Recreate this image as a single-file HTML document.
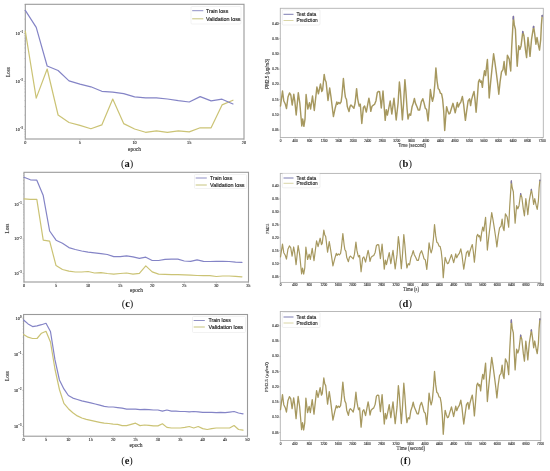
<!DOCTYPE html>
<html><head><meta charset="utf-8"><style>
html,body{margin:0;padding:0;background:#fff;}
svg{display:block;will-change:transform;}
</style></head><body>
<svg width="550" height="471" viewBox="0 0 550 471">
<rect x="0" y="0" width="550" height="471" fill="#fff"/>
<rect x="25.30" y="4.30" width="218.70" height="134.70" fill="none" stroke="#9a9a9a" stroke-width="1.1"/>
<line x1="25.30" y1="139.00" x2="25.30" y2="140.50" stroke="#999" stroke-width="0.5"/>
<text x="25.30" y="143.80" font-family='"Liberation Serif", serif' font-size="4.3" text-anchor="middle" font-weight="normal" fill="#333" stroke="#333" stroke-width="0.12" >0</text>
<line x1="79.95" y1="139.00" x2="79.95" y2="140.50" stroke="#999" stroke-width="0.5"/>
<text x="79.95" y="143.80" font-family='"Liberation Serif", serif' font-size="4.3" text-anchor="middle" font-weight="normal" fill="#333" stroke="#333" stroke-width="0.12" >5</text>
<line x1="134.60" y1="139.00" x2="134.60" y2="140.50" stroke="#999" stroke-width="0.5"/>
<text x="134.60" y="143.80" font-family='"Liberation Serif", serif' font-size="4.3" text-anchor="middle" font-weight="normal" fill="#333" stroke="#333" stroke-width="0.12" >10</text>
<line x1="189.25" y1="139.00" x2="189.25" y2="140.50" stroke="#999" stroke-width="0.5"/>
<text x="189.25" y="143.80" font-family='"Liberation Serif", serif' font-size="4.3" text-anchor="middle" font-weight="normal" fill="#333" stroke="#333" stroke-width="0.12" >15</text>
<line x1="243.90" y1="139.00" x2="243.90" y2="140.50" stroke="#999" stroke-width="0.5"/>
<text x="243.90" y="143.80" font-family='"Liberation Serif", serif' font-size="4.3" text-anchor="middle" font-weight="normal" fill="#333" stroke="#333" stroke-width="0.12" >20</text>
<line x1="24.30" y1="19.05" x2="25.30" y2="19.05" stroke="#999" stroke-width="0.4"/>
<line x1="24.30" y1="10.60" x2="25.30" y2="10.60" stroke="#999" stroke-width="0.4"/>
<line x1="24.30" y1="4.60" x2="25.30" y2="4.60" stroke="#999" stroke-width="0.4"/>
<line x1="24.30" y1="67.05" x2="25.30" y2="67.05" stroke="#999" stroke-width="0.4"/>
<line x1="24.30" y1="58.60" x2="25.30" y2="58.60" stroke="#999" stroke-width="0.4"/>
<line x1="24.30" y1="52.60" x2="25.30" y2="52.60" stroke="#999" stroke-width="0.4"/>
<line x1="24.30" y1="47.95" x2="25.30" y2="47.95" stroke="#999" stroke-width="0.4"/>
<line x1="24.30" y1="44.15" x2="25.30" y2="44.15" stroke="#999" stroke-width="0.4"/>
<line x1="24.30" y1="40.94" x2="25.30" y2="40.94" stroke="#999" stroke-width="0.4"/>
<line x1="24.30" y1="38.15" x2="25.30" y2="38.15" stroke="#999" stroke-width="0.4"/>
<line x1="24.30" y1="35.70" x2="25.30" y2="35.70" stroke="#999" stroke-width="0.4"/>
<line x1="24.30" y1="115.05" x2="25.30" y2="115.05" stroke="#999" stroke-width="0.4"/>
<line x1="24.30" y1="106.60" x2="25.30" y2="106.60" stroke="#999" stroke-width="0.4"/>
<line x1="24.30" y1="100.60" x2="25.30" y2="100.60" stroke="#999" stroke-width="0.4"/>
<line x1="24.30" y1="95.95" x2="25.30" y2="95.95" stroke="#999" stroke-width="0.4"/>
<line x1="24.30" y1="92.15" x2="25.30" y2="92.15" stroke="#999" stroke-width="0.4"/>
<line x1="24.30" y1="88.94" x2="25.30" y2="88.94" stroke="#999" stroke-width="0.4"/>
<line x1="24.30" y1="86.15" x2="25.30" y2="86.15" stroke="#999" stroke-width="0.4"/>
<line x1="24.30" y1="83.70" x2="25.30" y2="83.70" stroke="#999" stroke-width="0.4"/>
<line x1="24.30" y1="136.94" x2="25.30" y2="136.94" stroke="#999" stroke-width="0.4"/>
<line x1="24.30" y1="134.15" x2="25.30" y2="134.15" stroke="#999" stroke-width="0.4"/>
<line x1="24.30" y1="131.70" x2="25.30" y2="131.70" stroke="#999" stroke-width="0.4"/>
<line x1="23.80" y1="33.50" x2="25.30" y2="33.50" stroke="#999" stroke-width="0.5"/>
<text x="23.10" y="34.90" font-family='"Liberation Serif", serif' font-size="4.3" text-anchor="end" font-weight="normal" fill="#333" stroke="#333" stroke-width="0.12" >10<tspan font-size="3.0" dy="-1.6">−1</tspan></text>
<line x1="23.80" y1="81.60" x2="25.30" y2="81.60" stroke="#999" stroke-width="0.5"/>
<text x="23.10" y="83.00" font-family='"Liberation Serif", serif' font-size="4.3" text-anchor="end" font-weight="normal" fill="#333" stroke="#333" stroke-width="0.12" >10<tspan font-size="3.0" dy="-1.6">−2</tspan></text>
<line x1="23.80" y1="129.50" x2="25.30" y2="129.50" stroke="#999" stroke-width="0.5"/>
<text x="23.10" y="130.90" font-family='"Liberation Serif", serif' font-size="4.3" text-anchor="end" font-weight="normal" fill="#333" stroke="#333" stroke-width="0.12" >10<tspan font-size="3.0" dy="-1.6">−3</tspan></text>
<polyline points="25.30,31.20 36.23,98.10 47.16,69.00 58.09,115.00 69.02,122.50 79.95,125.40 90.88,128.70 101.81,124.90 112.74,99.00 123.67,123.60 134.60,129.00 145.53,132.30 156.46,130.90 167.39,132.30 178.32,130.90 189.25,131.90 200.18,127.80 211.11,127.80 222.04,104.90 232.97,100.20" fill="none" stroke="#cbc375" stroke-width="1.2" stroke-linejoin="round" stroke-linecap="round" />
<polyline points="25.30,10.40 36.23,27.30 47.16,66.00 58.09,70.50 69.02,80.90 79.95,84.10 90.88,86.80 101.81,91.30 112.74,92.20 123.67,93.60 134.60,96.90 145.53,97.80 156.46,97.80 167.39,99.00 178.32,100.70 189.25,102.00 200.18,96.60 211.11,100.90 222.04,99.20 232.97,104.00" fill="none" stroke="#8484c6" stroke-width="1.2" stroke-linejoin="round" stroke-linecap="round" />
<rect x="191" y="6.5" width="50" height="17.5" fill="#fff" fill-opacity="0.8" stroke="#e4e4e4" stroke-width="0.5" rx="1"/>
<line x1="192.20" y1="10.70" x2="203.30" y2="10.70" stroke="#7474b8" stroke-width="0.8"/>
<line x1="192.20" y1="18.80" x2="203.30" y2="18.80" stroke="#b9b55e" stroke-width="0.8"/>
<text x="206.00" y="12.60" font-family='"Liberation Sans", sans-serif' font-size="5.2" text-anchor="start" font-weight="normal" fill="#222" stroke="#222" stroke-width="0.15" textLength="22.3" lengthAdjust="spacingAndGlyphs" >Train loss</text>
<text x="206.00" y="20.70" font-family='"Liberation Sans", sans-serif' font-size="5.2" text-anchor="start" font-weight="normal" fill="#222" stroke="#222" stroke-width="0.15" textLength="34.6" lengthAdjust="spacingAndGlyphs" >Validation loss</text>
<text x="10.40" y="72.20" font-family='"Liberation Serif", serif' font-size="5.2" text-anchor="middle" font-weight="normal" fill="#333" stroke="#333" stroke-width="0.12" transform="rotate(-90 10.4 72.2)">Loss</text>
<text x="134.50" y="150.50" font-family='"Liberation Serif", serif' font-size="5.4" text-anchor="middle" font-weight="normal" fill="#333" stroke="#333" stroke-width="0.12" textLength="13" lengthAdjust="spacingAndGlyphs" >epoch</text>
<text x="127.00" y="166.80" font-family='"Liberation Serif", serif' font-size="10.5" text-anchor="middle" font-weight="normal" fill="#111" >(<tspan font-weight="bold">a</tspan>)</text>
<rect x="24.00" y="172.30" width="224.50" height="109.70" fill="none" stroke="#9a9a9a" stroke-width="1.1"/>
<line x1="24.00" y1="282.00" x2="24.00" y2="283.50" stroke="#999" stroke-width="0.5"/>
<text x="24.00" y="286.60" font-family='"Liberation Serif", serif' font-size="4.3" text-anchor="middle" font-weight="normal" fill="#333" stroke="#333" stroke-width="0.12" >0</text>
<line x1="56.05" y1="282.00" x2="56.05" y2="283.50" stroke="#999" stroke-width="0.5"/>
<text x="56.05" y="286.60" font-family='"Liberation Serif", serif' font-size="4.3" text-anchor="middle" font-weight="normal" fill="#333" stroke="#333" stroke-width="0.12" >5</text>
<line x1="88.10" y1="282.00" x2="88.10" y2="283.50" stroke="#999" stroke-width="0.5"/>
<text x="88.10" y="286.60" font-family='"Liberation Serif", serif' font-size="4.3" text-anchor="middle" font-weight="normal" fill="#333" stroke="#333" stroke-width="0.12" >10</text>
<line x1="120.15" y1="282.00" x2="120.15" y2="283.50" stroke="#999" stroke-width="0.5"/>
<text x="120.15" y="286.60" font-family='"Liberation Serif", serif' font-size="4.3" text-anchor="middle" font-weight="normal" fill="#333" stroke="#333" stroke-width="0.12" >15</text>
<line x1="152.20" y1="282.00" x2="152.20" y2="283.50" stroke="#999" stroke-width="0.5"/>
<text x="152.20" y="286.60" font-family='"Liberation Serif", serif' font-size="4.3" text-anchor="middle" font-weight="normal" fill="#333" stroke="#333" stroke-width="0.12" >20</text>
<line x1="184.25" y1="282.00" x2="184.25" y2="283.50" stroke="#999" stroke-width="0.5"/>
<text x="184.25" y="286.60" font-family='"Liberation Serif", serif' font-size="4.3" text-anchor="middle" font-weight="normal" fill="#333" stroke="#333" stroke-width="0.12" >25</text>
<line x1="216.30" y1="282.00" x2="216.30" y2="283.50" stroke="#999" stroke-width="0.5"/>
<text x="216.30" y="286.60" font-family='"Liberation Serif", serif' font-size="4.3" text-anchor="middle" font-weight="normal" fill="#333" stroke="#333" stroke-width="0.12" >30</text>
<line x1="248.35" y1="282.00" x2="248.35" y2="283.50" stroke="#999" stroke-width="0.5"/>
<text x="248.35" y="286.60" font-family='"Liberation Serif", serif' font-size="4.3" text-anchor="middle" font-weight="normal" fill="#333" stroke="#333" stroke-width="0.12" >35</text>
<line x1="23.00" y1="194.11" x2="24.00" y2="194.11" stroke="#999" stroke-width="0.4"/>
<line x1="23.00" y1="188.04" x2="24.00" y2="188.04" stroke="#999" stroke-width="0.4"/>
<line x1="23.00" y1="183.73" x2="24.00" y2="183.73" stroke="#999" stroke-width="0.4"/>
<line x1="23.00" y1="180.39" x2="24.00" y2="180.39" stroke="#999" stroke-width="0.4"/>
<line x1="23.00" y1="177.65" x2="24.00" y2="177.65" stroke="#999" stroke-width="0.4"/>
<line x1="23.00" y1="175.34" x2="24.00" y2="175.34" stroke="#999" stroke-width="0.4"/>
<line x1="23.00" y1="173.34" x2="24.00" y2="173.34" stroke="#999" stroke-width="0.4"/>
<line x1="23.00" y1="228.61" x2="24.00" y2="228.61" stroke="#999" stroke-width="0.4"/>
<line x1="23.00" y1="222.54" x2="24.00" y2="222.54" stroke="#999" stroke-width="0.4"/>
<line x1="23.00" y1="218.23" x2="24.00" y2="218.23" stroke="#999" stroke-width="0.4"/>
<line x1="23.00" y1="214.89" x2="24.00" y2="214.89" stroke="#999" stroke-width="0.4"/>
<line x1="23.00" y1="212.15" x2="24.00" y2="212.15" stroke="#999" stroke-width="0.4"/>
<line x1="23.00" y1="209.84" x2="24.00" y2="209.84" stroke="#999" stroke-width="0.4"/>
<line x1="23.00" y1="207.84" x2="24.00" y2="207.84" stroke="#999" stroke-width="0.4"/>
<line x1="23.00" y1="206.08" x2="24.00" y2="206.08" stroke="#999" stroke-width="0.4"/>
<line x1="23.00" y1="263.11" x2="24.00" y2="263.11" stroke="#999" stroke-width="0.4"/>
<line x1="23.00" y1="257.04" x2="24.00" y2="257.04" stroke="#999" stroke-width="0.4"/>
<line x1="23.00" y1="252.73" x2="24.00" y2="252.73" stroke="#999" stroke-width="0.4"/>
<line x1="23.00" y1="249.39" x2="24.00" y2="249.39" stroke="#999" stroke-width="0.4"/>
<line x1="23.00" y1="246.65" x2="24.00" y2="246.65" stroke="#999" stroke-width="0.4"/>
<line x1="23.00" y1="244.34" x2="24.00" y2="244.34" stroke="#999" stroke-width="0.4"/>
<line x1="23.00" y1="242.34" x2="24.00" y2="242.34" stroke="#999" stroke-width="0.4"/>
<line x1="23.00" y1="240.58" x2="24.00" y2="240.58" stroke="#999" stroke-width="0.4"/>
<line x1="23.00" y1="281.15" x2="24.00" y2="281.15" stroke="#999" stroke-width="0.4"/>
<line x1="23.00" y1="278.84" x2="24.00" y2="278.84" stroke="#999" stroke-width="0.4"/>
<line x1="23.00" y1="276.84" x2="24.00" y2="276.84" stroke="#999" stroke-width="0.4"/>
<line x1="23.00" y1="275.08" x2="24.00" y2="275.08" stroke="#999" stroke-width="0.4"/>
<line x1="22.50" y1="204.50" x2="24.00" y2="204.50" stroke="#999" stroke-width="0.5"/>
<text x="21.80" y="205.90" font-family='"Liberation Serif", serif' font-size="4.3" text-anchor="end" font-weight="normal" fill="#333" stroke="#333" stroke-width="0.12" >10<tspan font-size="3.0" dy="-1.6">−1</tspan></text>
<line x1="22.50" y1="239.00" x2="24.00" y2="239.00" stroke="#999" stroke-width="0.5"/>
<text x="21.80" y="240.40" font-family='"Liberation Serif", serif' font-size="4.3" text-anchor="end" font-weight="normal" fill="#333" stroke="#333" stroke-width="0.12" >10<tspan font-size="3.0" dy="-1.6">−2</tspan></text>
<line x1="22.50" y1="273.50" x2="24.00" y2="273.50" stroke="#999" stroke-width="0.5"/>
<text x="21.80" y="274.90" font-family='"Liberation Serif", serif' font-size="4.3" text-anchor="end" font-weight="normal" fill="#333" stroke="#333" stroke-width="0.12" >10<tspan font-size="3.0" dy="-1.6">−3</tspan></text>
<polyline points="24.00,198.80 30.41,199.30 36.82,199.30 43.23,240.20 49.64,241.20 56.05,265.60 62.46,269.50 68.87,271.20 75.28,272.00 81.69,272.00 88.10,271.50 94.51,273.00 100.92,272.60 107.33,273.50 113.74,274.10 120.15,273.50 126.56,273.00 132.97,274.10 139.38,273.30 145.79,265.90 152.20,271.90 158.61,274.10 165.02,274.40 171.43,274.60 177.84,274.60 184.25,274.90 190.66,275.20 197.07,275.50 203.48,275.70 209.89,275.70 216.30,276.50 222.71,276.00 229.12,276.00 235.53,276.30 241.94,276.80" fill="none" stroke="#cbc375" stroke-width="1.2" stroke-linejoin="round" stroke-linecap="round" />
<polyline points="24.00,177.30 30.41,179.80 36.82,180.20 43.23,195.60 49.64,231.00 56.05,240.20 62.46,243.20 68.87,247.60 75.28,249.50 81.69,251.00 88.10,252.20 94.51,252.90 100.92,253.70 107.33,254.50 113.74,256.60 120.15,256.60 126.56,255.80 132.97,256.90 139.38,258.30 145.79,257.20 152.20,260.50 158.61,260.50 165.02,259.40 171.43,259.10 177.84,259.10 184.25,261.00 190.66,261.30 197.07,259.90 203.48,261.30 209.89,261.50 216.30,261.30 222.71,261.30 229.12,261.50 235.53,262.10 241.94,262.40" fill="none" stroke="#8484c6" stroke-width="1.2" stroke-linejoin="round" stroke-linecap="round" />
<rect x="194.5" y="174.5" width="52.0" height="14.0" fill="#fff" fill-opacity="0.8" stroke="#e4e4e4" stroke-width="0.5" rx="1"/>
<line x1="195.70" y1="178.00" x2="206.80" y2="178.00" stroke="#7474b8" stroke-width="0.8"/>
<line x1="195.70" y1="185.00" x2="206.80" y2="185.00" stroke="#b9b55e" stroke-width="0.8"/>
<text x="210.00" y="179.90" font-family='"Liberation Sans", sans-serif' font-size="5.2" text-anchor="start" font-weight="normal" fill="#222" stroke="#222" stroke-width="0.15" textLength="22.3" lengthAdjust="spacingAndGlyphs" >Train loss</text>
<text x="210.00" y="186.90" font-family='"Liberation Sans", sans-serif' font-size="5.2" text-anchor="start" font-weight="normal" fill="#222" stroke="#222" stroke-width="0.15" textLength="34.6" lengthAdjust="spacingAndGlyphs" >Validation loss</text>
<text x="9.30" y="228.50" font-family='"Liberation Serif", serif' font-size="5.2" text-anchor="middle" font-weight="normal" fill="#333" stroke="#333" stroke-width="0.12" transform="rotate(-90 9.3 228.5)">Loss</text>
<text x="136.50" y="291.50" font-family='"Liberation Serif", serif' font-size="5.4" text-anchor="middle" font-weight="normal" fill="#333" stroke="#333" stroke-width="0.12" textLength="13" lengthAdjust="spacingAndGlyphs" >epoch</text>
<text x="127.50" y="306.50" font-family='"Liberation Serif", serif' font-size="10.5" text-anchor="middle" font-weight="normal" fill="#111" >(<tspan font-weight="bold">c</tspan>)</text>
<rect x="23.60" y="314.50" width="223.90" height="121.70" fill="none" stroke="#9a9a9a" stroke-width="1.1"/>
<line x1="23.60" y1="436.20" x2="23.60" y2="437.70" stroke="#999" stroke-width="0.5"/>
<text x="23.60" y="441.00" font-family='"Liberation Serif", serif' font-size="4.3" text-anchor="middle" font-weight="normal" fill="#333" stroke="#333" stroke-width="0.12" >0</text>
<line x1="45.99" y1="436.20" x2="45.99" y2="437.70" stroke="#999" stroke-width="0.5"/>
<text x="45.99" y="441.00" font-family='"Liberation Serif", serif' font-size="4.3" text-anchor="middle" font-weight="normal" fill="#333" stroke="#333" stroke-width="0.12" >5</text>
<line x1="68.38" y1="436.20" x2="68.38" y2="437.70" stroke="#999" stroke-width="0.5"/>
<text x="68.38" y="441.00" font-family='"Liberation Serif", serif' font-size="4.3" text-anchor="middle" font-weight="normal" fill="#333" stroke="#333" stroke-width="0.12" >10</text>
<line x1="90.77" y1="436.20" x2="90.77" y2="437.70" stroke="#999" stroke-width="0.5"/>
<text x="90.77" y="441.00" font-family='"Liberation Serif", serif' font-size="4.3" text-anchor="middle" font-weight="normal" fill="#333" stroke="#333" stroke-width="0.12" >15</text>
<line x1="113.16" y1="436.20" x2="113.16" y2="437.70" stroke="#999" stroke-width="0.5"/>
<text x="113.16" y="441.00" font-family='"Liberation Serif", serif' font-size="4.3" text-anchor="middle" font-weight="normal" fill="#333" stroke="#333" stroke-width="0.12" >20</text>
<line x1="135.55" y1="436.20" x2="135.55" y2="437.70" stroke="#999" stroke-width="0.5"/>
<text x="135.55" y="441.00" font-family='"Liberation Serif", serif' font-size="4.3" text-anchor="middle" font-weight="normal" fill="#333" stroke="#333" stroke-width="0.12" >25</text>
<line x1="157.94" y1="436.20" x2="157.94" y2="437.70" stroke="#999" stroke-width="0.5"/>
<text x="157.94" y="441.00" font-family='"Liberation Serif", serif' font-size="4.3" text-anchor="middle" font-weight="normal" fill="#333" stroke="#333" stroke-width="0.12" >30</text>
<line x1="180.33" y1="436.20" x2="180.33" y2="437.70" stroke="#999" stroke-width="0.5"/>
<text x="180.33" y="441.00" font-family='"Liberation Serif", serif' font-size="4.3" text-anchor="middle" font-weight="normal" fill="#333" stroke="#333" stroke-width="0.12" >35</text>
<line x1="202.72" y1="436.20" x2="202.72" y2="437.70" stroke="#999" stroke-width="0.5"/>
<text x="202.72" y="441.00" font-family='"Liberation Serif", serif' font-size="4.3" text-anchor="middle" font-weight="normal" fill="#333" stroke="#333" stroke-width="0.12" >40</text>
<line x1="225.11" y1="436.20" x2="225.11" y2="437.70" stroke="#999" stroke-width="0.5"/>
<text x="225.11" y="441.00" font-family='"Liberation Serif", serif' font-size="4.3" text-anchor="middle" font-weight="normal" fill="#333" stroke="#333" stroke-width="0.12" >45</text>
<line x1="247.50" y1="436.20" x2="247.50" y2="437.70" stroke="#999" stroke-width="0.5"/>
<text x="247.50" y="441.00" font-family='"Liberation Serif", serif' font-size="4.3" text-anchor="middle" font-weight="normal" fill="#333" stroke="#333" stroke-width="0.12" >50</text>
<line x1="22.60" y1="343.43" x2="23.60" y2="343.43" stroke="#999" stroke-width="0.4"/>
<line x1="22.60" y1="337.08" x2="23.60" y2="337.08" stroke="#999" stroke-width="0.4"/>
<line x1="22.60" y1="332.57" x2="23.60" y2="332.57" stroke="#999" stroke-width="0.4"/>
<line x1="22.60" y1="329.07" x2="23.60" y2="329.07" stroke="#999" stroke-width="0.4"/>
<line x1="22.60" y1="326.21" x2="23.60" y2="326.21" stroke="#999" stroke-width="0.4"/>
<line x1="22.60" y1="323.79" x2="23.60" y2="323.79" stroke="#999" stroke-width="0.4"/>
<line x1="22.60" y1="321.70" x2="23.60" y2="321.70" stroke="#999" stroke-width="0.4"/>
<line x1="22.60" y1="319.85" x2="23.60" y2="319.85" stroke="#999" stroke-width="0.4"/>
<line x1="22.60" y1="379.53" x2="23.60" y2="379.53" stroke="#999" stroke-width="0.4"/>
<line x1="22.60" y1="373.18" x2="23.60" y2="373.18" stroke="#999" stroke-width="0.4"/>
<line x1="22.60" y1="368.67" x2="23.60" y2="368.67" stroke="#999" stroke-width="0.4"/>
<line x1="22.60" y1="365.17" x2="23.60" y2="365.17" stroke="#999" stroke-width="0.4"/>
<line x1="22.60" y1="362.31" x2="23.60" y2="362.31" stroke="#999" stroke-width="0.4"/>
<line x1="22.60" y1="359.89" x2="23.60" y2="359.89" stroke="#999" stroke-width="0.4"/>
<line x1="22.60" y1="357.80" x2="23.60" y2="357.80" stroke="#999" stroke-width="0.4"/>
<line x1="22.60" y1="355.95" x2="23.60" y2="355.95" stroke="#999" stroke-width="0.4"/>
<line x1="22.60" y1="415.63" x2="23.60" y2="415.63" stroke="#999" stroke-width="0.4"/>
<line x1="22.60" y1="409.28" x2="23.60" y2="409.28" stroke="#999" stroke-width="0.4"/>
<line x1="22.60" y1="404.77" x2="23.60" y2="404.77" stroke="#999" stroke-width="0.4"/>
<line x1="22.60" y1="401.27" x2="23.60" y2="401.27" stroke="#999" stroke-width="0.4"/>
<line x1="22.60" y1="398.41" x2="23.60" y2="398.41" stroke="#999" stroke-width="0.4"/>
<line x1="22.60" y1="395.99" x2="23.60" y2="395.99" stroke="#999" stroke-width="0.4"/>
<line x1="22.60" y1="393.90" x2="23.60" y2="393.90" stroke="#999" stroke-width="0.4"/>
<line x1="22.60" y1="392.05" x2="23.60" y2="392.05" stroke="#999" stroke-width="0.4"/>
<line x1="22.60" y1="434.51" x2="23.60" y2="434.51" stroke="#999" stroke-width="0.4"/>
<line x1="22.60" y1="432.09" x2="23.60" y2="432.09" stroke="#999" stroke-width="0.4"/>
<line x1="22.60" y1="430.00" x2="23.60" y2="430.00" stroke="#999" stroke-width="0.4"/>
<line x1="22.60" y1="428.15" x2="23.60" y2="428.15" stroke="#999" stroke-width="0.4"/>
<line x1="22.10" y1="318.20" x2="23.60" y2="318.20" stroke="#999" stroke-width="0.5"/>
<text x="21.40" y="319.60" font-family='"Liberation Serif", serif' font-size="4.3" text-anchor="end" font-weight="normal" fill="#333" stroke="#333" stroke-width="0.12" >10<tspan font-size="3.0" dy="-1.6">0</tspan></text>
<line x1="22.10" y1="354.40" x2="23.60" y2="354.40" stroke="#999" stroke-width="0.5"/>
<text x="21.40" y="355.80" font-family='"Liberation Serif", serif' font-size="4.3" text-anchor="end" font-weight="normal" fill="#333" stroke="#333" stroke-width="0.12" >10<tspan font-size="3.0" dy="-1.6">−1</tspan></text>
<line x1="22.10" y1="390.30" x2="23.60" y2="390.30" stroke="#999" stroke-width="0.5"/>
<text x="21.40" y="391.70" font-family='"Liberation Serif", serif' font-size="4.3" text-anchor="end" font-weight="normal" fill="#333" stroke="#333" stroke-width="0.12" >10<tspan font-size="3.0" dy="-1.6">−2</tspan></text>
<line x1="22.10" y1="426.50" x2="23.60" y2="426.50" stroke="#999" stroke-width="0.5"/>
<text x="21.40" y="427.90" font-family='"Liberation Serif", serif' font-size="4.3" text-anchor="end" font-weight="normal" fill="#333" stroke="#333" stroke-width="0.12" >10<tspan font-size="3.0" dy="-1.6">−3</tspan></text>
<polyline points="23.60,334.50 28.08,337.20 32.56,338.50 37.03,338.50 41.51,333.20 45.99,331.30 50.47,342.00 54.95,369.00 59.42,389.50 63.90,403.40 68.38,408.70 72.86,412.70 77.34,415.90 81.81,418.00 86.29,419.30 90.77,420.40 95.25,421.40 99.73,422.30 104.20,423.20 108.68,423.50 113.16,424.10 117.64,424.40 122.12,425.60 126.59,425.60 131.07,424.40 135.55,423.20 140.03,425.60 144.51,425.00 148.98,425.30 153.46,425.90 157.94,425.90 162.42,423.80 166.90,427.40 171.37,428.00 175.85,428.00 180.33,428.00 184.81,427.40 189.29,426.50 193.76,428.00 198.24,426.50 202.72,428.60 207.20,429.50 211.68,428.60 216.15,428.00 220.63,428.00 225.11,428.00 229.59,428.00 234.07,425.50 238.54,429.50 243.02,430.10" fill="none" stroke="#cbc375" stroke-width="1.2" stroke-linejoin="round" stroke-linecap="round" />
<polyline points="23.60,320.00 28.08,323.90 32.56,326.60 37.03,325.80 41.51,324.70 45.99,323.30 50.47,331.50 54.95,359.70 59.42,380.00 63.90,388.90 68.38,395.50 72.86,398.10 77.34,399.50 81.81,400.80 86.29,401.80 90.77,402.80 95.25,404.00 99.73,405.20 104.20,406.40 108.68,407.00 113.16,407.00 117.64,407.60 122.12,408.20 126.59,409.10 131.07,409.10 135.55,409.10 140.03,409.70 144.51,409.40 148.98,409.70 153.46,410.00 157.94,410.00 162.42,411.20 166.90,410.00 171.37,411.20 175.85,411.20 180.33,411.50 184.81,411.50 189.29,411.80 193.76,411.50 198.24,411.80 202.72,412.40 207.20,412.40 211.68,412.40 216.15,412.70 220.63,412.40 225.11,412.70 229.59,412.10 234.07,411.50 238.54,413.00 243.02,413.90" fill="none" stroke="#8484c6" stroke-width="1.2" stroke-linejoin="round" stroke-linecap="round" />
<rect x="192.5" y="316.5" width="53.0" height="16.0" fill="#fff" fill-opacity="0.8" stroke="#e4e4e4" stroke-width="0.5" rx="1"/>
<line x1="193.70" y1="320.50" x2="204.80" y2="320.50" stroke="#7474b8" stroke-width="0.8"/>
<line x1="193.70" y1="327.00" x2="204.80" y2="327.00" stroke="#b9b55e" stroke-width="0.8"/>
<text x="208.50" y="322.40" font-family='"Liberation Sans", sans-serif' font-size="5.2" text-anchor="start" font-weight="normal" fill="#222" stroke="#222" stroke-width="0.15" textLength="22.3" lengthAdjust="spacingAndGlyphs" >Train loss</text>
<text x="208.50" y="328.90" font-family='"Liberation Sans", sans-serif' font-size="5.2" text-anchor="start" font-weight="normal" fill="#222" stroke="#222" stroke-width="0.15" textLength="34.6" lengthAdjust="spacingAndGlyphs" >Validation loss</text>
<text x="9.30" y="376.00" font-family='"Liberation Serif", serif' font-size="5.2" text-anchor="middle" font-weight="normal" fill="#333" stroke="#333" stroke-width="0.12" transform="rotate(-90 9.3 376)">Loss</text>
<text x="136.00" y="447.00" font-family='"Liberation Serif", serif' font-size="5.4" text-anchor="middle" font-weight="normal" fill="#333" stroke="#333" stroke-width="0.12" textLength="13" lengthAdjust="spacingAndGlyphs" >epoch</text>
<text x="127.00" y="464.30" font-family='"Liberation Serif", serif' font-size="10.5" text-anchor="middle" font-weight="normal" fill="#111" >(<tspan font-weight="bold">e</tspan>)</text>
<rect x="280.30" y="8.30" width="263.00" height="129.20" fill="none" stroke="#b2b2b2" stroke-width="0.9"/>
<line x1="279.10" y1="23.50" x2="280.30" y2="23.50" stroke="#888" stroke-width="0.4"/>
<text x="278.50" y="24.60" font-family='"Liberation Sans", sans-serif' font-size="3.2" text-anchor="end" font-weight="normal" fill="#333" stroke="#333" stroke-width="0.12" >0.40</text>
<line x1="279.10" y1="38.71" x2="280.30" y2="38.71" stroke="#888" stroke-width="0.4"/>
<text x="278.50" y="39.81" font-family='"Liberation Sans", sans-serif' font-size="3.2" text-anchor="end" font-weight="normal" fill="#333" stroke="#333" stroke-width="0.12" >0.35</text>
<line x1="279.10" y1="53.93" x2="280.30" y2="53.93" stroke="#888" stroke-width="0.4"/>
<text x="278.50" y="55.03" font-family='"Liberation Sans", sans-serif' font-size="3.2" text-anchor="end" font-weight="normal" fill="#333" stroke="#333" stroke-width="0.12" >0.30</text>
<line x1="279.10" y1="69.14" x2="280.30" y2="69.14" stroke="#888" stroke-width="0.4"/>
<text x="278.50" y="70.24" font-family='"Liberation Sans", sans-serif' font-size="3.2" text-anchor="end" font-weight="normal" fill="#333" stroke="#333" stroke-width="0.12" >0.25</text>
<line x1="279.10" y1="84.36" x2="280.30" y2="84.36" stroke="#888" stroke-width="0.4"/>
<text x="278.50" y="85.46" font-family='"Liberation Sans", sans-serif' font-size="3.2" text-anchor="end" font-weight="normal" fill="#333" stroke="#333" stroke-width="0.12" >0.20</text>
<line x1="279.10" y1="99.57" x2="280.30" y2="99.57" stroke="#888" stroke-width="0.4"/>
<text x="278.50" y="100.67" font-family='"Liberation Sans", sans-serif' font-size="3.2" text-anchor="end" font-weight="normal" fill="#333" stroke="#333" stroke-width="0.12" >0.15</text>
<line x1="279.10" y1="114.79" x2="280.30" y2="114.79" stroke="#888" stroke-width="0.4"/>
<text x="278.50" y="115.89" font-family='"Liberation Sans", sans-serif' font-size="3.2" text-anchor="end" font-weight="normal" fill="#333" stroke="#333" stroke-width="0.12" >0.10</text>
<line x1="279.10" y1="130.00" x2="280.30" y2="130.00" stroke="#888" stroke-width="0.4"/>
<text x="278.50" y="131.10" font-family='"Liberation Sans", sans-serif' font-size="3.2" text-anchor="end" font-weight="normal" fill="#333" stroke="#333" stroke-width="0.12" >0.05</text>
<line x1="280.50" y1="137.50" x2="280.50" y2="138.70" stroke="#888" stroke-width="0.4"/>
<text x="280.50" y="141.50" font-family='"Liberation Sans", sans-serif' font-size="3.1" text-anchor="middle" font-weight="normal" fill="#333" stroke="#333" stroke-width="0.12" >0</text>
<line x1="295.04" y1="137.50" x2="295.04" y2="138.70" stroke="#888" stroke-width="0.4"/>
<text x="295.04" y="141.50" font-family='"Liberation Sans", sans-serif' font-size="3.1" text-anchor="middle" font-weight="normal" fill="#333" stroke="#333" stroke-width="0.12" >400</text>
<line x1="309.58" y1="137.50" x2="309.58" y2="138.70" stroke="#888" stroke-width="0.4"/>
<text x="309.58" y="141.50" font-family='"Liberation Sans", sans-serif' font-size="3.1" text-anchor="middle" font-weight="normal" fill="#333" stroke="#333" stroke-width="0.12" >800</text>
<line x1="324.12" y1="137.50" x2="324.12" y2="138.70" stroke="#888" stroke-width="0.4"/>
<text x="324.12" y="141.50" font-family='"Liberation Sans", sans-serif' font-size="3.1" text-anchor="middle" font-weight="normal" fill="#333" stroke="#333" stroke-width="0.12" >1200</text>
<line x1="338.66" y1="137.50" x2="338.66" y2="138.70" stroke="#888" stroke-width="0.4"/>
<text x="338.66" y="141.50" font-family='"Liberation Sans", sans-serif' font-size="3.1" text-anchor="middle" font-weight="normal" fill="#333" stroke="#333" stroke-width="0.12" >1600</text>
<line x1="353.19" y1="137.50" x2="353.19" y2="138.70" stroke="#888" stroke-width="0.4"/>
<text x="353.19" y="141.50" font-family='"Liberation Sans", sans-serif' font-size="3.1" text-anchor="middle" font-weight="normal" fill="#333" stroke="#333" stroke-width="0.12" >2000</text>
<line x1="367.73" y1="137.50" x2="367.73" y2="138.70" stroke="#888" stroke-width="0.4"/>
<text x="367.73" y="141.50" font-family='"Liberation Sans", sans-serif' font-size="3.1" text-anchor="middle" font-weight="normal" fill="#333" stroke="#333" stroke-width="0.12" >2400</text>
<line x1="382.27" y1="137.50" x2="382.27" y2="138.70" stroke="#888" stroke-width="0.4"/>
<text x="382.27" y="141.50" font-family='"Liberation Sans", sans-serif' font-size="3.1" text-anchor="middle" font-weight="normal" fill="#333" stroke="#333" stroke-width="0.12" >2800</text>
<line x1="396.81" y1="137.50" x2="396.81" y2="138.70" stroke="#888" stroke-width="0.4"/>
<text x="396.81" y="141.50" font-family='"Liberation Sans", sans-serif' font-size="3.1" text-anchor="middle" font-weight="normal" fill="#333" stroke="#333" stroke-width="0.12" >3200</text>
<line x1="411.35" y1="137.50" x2="411.35" y2="138.70" stroke="#888" stroke-width="0.4"/>
<text x="411.35" y="141.50" font-family='"Liberation Sans", sans-serif' font-size="3.1" text-anchor="middle" font-weight="normal" fill="#333" stroke="#333" stroke-width="0.12" >3600</text>
<line x1="425.89" y1="137.50" x2="425.89" y2="138.70" stroke="#888" stroke-width="0.4"/>
<text x="425.89" y="141.50" font-family='"Liberation Sans", sans-serif' font-size="3.1" text-anchor="middle" font-weight="normal" fill="#333" stroke="#333" stroke-width="0.12" >4000</text>
<line x1="440.43" y1="137.50" x2="440.43" y2="138.70" stroke="#888" stroke-width="0.4"/>
<text x="440.43" y="141.50" font-family='"Liberation Sans", sans-serif' font-size="3.1" text-anchor="middle" font-weight="normal" fill="#333" stroke="#333" stroke-width="0.12" >4400</text>
<line x1="454.97" y1="137.50" x2="454.97" y2="138.70" stroke="#888" stroke-width="0.4"/>
<text x="454.97" y="141.50" font-family='"Liberation Sans", sans-serif' font-size="3.1" text-anchor="middle" font-weight="normal" fill="#333" stroke="#333" stroke-width="0.12" >4800</text>
<line x1="469.51" y1="137.50" x2="469.51" y2="138.70" stroke="#888" stroke-width="0.4"/>
<text x="469.51" y="141.50" font-family='"Liberation Sans", sans-serif' font-size="3.1" text-anchor="middle" font-weight="normal" fill="#333" stroke="#333" stroke-width="0.12" >5200</text>
<line x1="484.04" y1="137.50" x2="484.04" y2="138.70" stroke="#888" stroke-width="0.4"/>
<text x="484.04" y="141.50" font-family='"Liberation Sans", sans-serif' font-size="3.1" text-anchor="middle" font-weight="normal" fill="#333" stroke="#333" stroke-width="0.12" >5600</text>
<line x1="498.58" y1="137.50" x2="498.58" y2="138.70" stroke="#888" stroke-width="0.4"/>
<text x="498.58" y="141.50" font-family='"Liberation Sans", sans-serif' font-size="3.1" text-anchor="middle" font-weight="normal" fill="#333" stroke="#333" stroke-width="0.12" >6000</text>
<line x1="513.12" y1="137.50" x2="513.12" y2="138.70" stroke="#888" stroke-width="0.4"/>
<text x="513.12" y="141.50" font-family='"Liberation Sans", sans-serif' font-size="3.1" text-anchor="middle" font-weight="normal" fill="#333" stroke="#333" stroke-width="0.12" >6400</text>
<line x1="527.66" y1="137.50" x2="527.66" y2="138.70" stroke="#888" stroke-width="0.4"/>
<text x="527.66" y="141.50" font-family='"Liberation Sans", sans-serif' font-size="3.1" text-anchor="middle" font-weight="normal" fill="#333" stroke="#333" stroke-width="0.12" >6800</text>
<line x1="542.20" y1="137.50" x2="542.20" y2="138.70" stroke="#888" stroke-width="0.4"/>
<text x="542.20" y="141.50" font-family='"Liberation Sans", sans-serif' font-size="3.1" text-anchor="middle" font-weight="normal" fill="#333" stroke="#333" stroke-width="0.12" >7200</text>
<polyline points="280.50,106.02 282.50,91.02 283.80,101.02 285.30,104.02 286.50,108.52 288.00,97.02 289.50,93.02 290.80,95.02 292.20,105.02 293.80,94.32 294.80,101.02 296.20,115.03 298.30,92.82 299.80,103.02 301.00,117.03 301.80,126.03 302.70,119.03 303.90,126.33 305.00,119.03 306.10,94.52 307.80,109.02 309.40,102.82 310.60,108.92 312.50,96.02 314.30,110.52 316.90,87.02 318.40,93.82 320.50,84.02 321.80,91.52 322.60,90.02 324.20,74.41 325.10,79.82 326.10,82.02 328.00,100.42 329.70,88.02 331.00,97.02 333.40,116.53 335.30,107.72 336.80,101.92 337.60,104.22 338.80,102.42 339.90,103.62 341.10,101.92 341.90,96.02 343.40,78.52 344.70,92.02 345.40,97.22 346.50,99.52 347.30,106.52 349.00,111.62 350.00,106.52 351.00,105.02 352.40,106.52 353.90,108.32 355.10,103.02 356.60,88.62 357.60,98.32 358.50,103.02 359.20,106.02 360.30,104.22 361.80,123.53 363.40,107.42 364.60,106.02 366.30,112.02 368.90,98.22 369.60,101.92 370.80,111.32 371.90,106.52 373.10,105.32 374.60,104.22 376.00,100.72 377.30,92.52 378.30,91.52 379.60,91.82 381.30,108.02 383.00,91.02 385.20,120.33 386.30,109.62 387.40,115.13 390.20,100.92 391.80,114.03 394.00,98.22 396.20,120.03 398.10,103.02 399.40,82.02 400.40,91.32 401.60,108.92 402.40,119.83 403.60,103.02 404.90,79.62 405.90,91.32 407.10,109.02 408.00,119.03 409.40,113.93 410.70,115.23 412.00,107.02 413.30,103.12 414.40,98.52 415.40,103.12 417.10,107.02 418.30,110.12 419.60,110.12 421.30,101.92 422.80,98.72 424.10,103.12 425.30,108.22 426.60,109.52 428.10,120.83 429.20,107.02 430.40,89.52 431.70,98.02 432.50,101.22 433.70,96.22 434.80,84.32 435.90,67.91 437.10,81.32 438.20,88.72 439.20,89.52 440.40,93.22 441.60,93.92 442.60,99.12 443.70,111.02 444.70,130.53 445.60,118.43 446.60,106.62 447.80,111.02 449.00,114.03 450.00,113.23 451.10,109.52 453.00,103.32 454.10,108.02 455.20,112.83 456.40,107.02 457.30,102.52 458.30,107.02 459.50,104.02 460.90,101.82 462.40,96.52 463.60,104.02 464.70,114.43 465.40,120.33 466.60,111.42 468.10,101.02 469.60,98.82 470.60,105.52 471.60,99.62 472.80,95.12 474.00,91.42 475.00,99.62 476.10,112.22 477.30,98.12 478.50,81.72 479.50,79.52 480.50,82.32 481.40,81.02 482.40,87.32 483.30,78.62 484.50,70.81 485.60,75.61 486.70,65.21 487.40,59.51 488.30,77.12 489.20,97.92 490.40,84.62 491.90,69.71 493.60,53.81 494.90,62.31 496.30,72.71 497.80,84.62 498.80,94.22 500.10,81.62 501.50,71.91 503.00,69.71 504.10,61.51 505.10,71.91 506.00,75.01 507.40,55.31 509.20,59.11 510.70,71.01 511.70,47.21 513.40,16.50 514.30,24.90 515.40,29.30 516.20,47.21 517.20,66.31 518.70,45.71 519.90,49.41 521.10,45.71 522.80,31.60 524.00,36.00 525.50,50.11 526.60,57.61 528.00,37.50 529.10,47.21 530.00,56.31 531.50,39.70 533.60,26.40 534.70,33.80 535.90,44.21 537.00,37.50 538.50,45.71 539.50,50.11 540.70,39.70 541.40,24.90 542.20,15.50" fill="none" stroke="#a6985f" stroke-width="1.45" stroke-linejoin="round" stroke-linecap="round" />
<polyline points="513.26,18.95 513.40,16.50 513.47,17.17" fill="none" stroke="#7a72b4" stroke-width="1.45" stroke-linejoin="round" stroke-linecap="round" />
<polyline points="522.66,32.73 522.80,31.60 522.90,31.95" fill="none" stroke="#7a72b4" stroke-width="1.45" stroke-linejoin="round" stroke-linecap="round" />
<polyline points="533.43,27.47 533.60,26.40 533.69,26.99" fill="none" stroke="#7a72b4" stroke-width="1.45" stroke-linejoin="round" stroke-linecap="round" />
<polyline points="542.14,16.25 542.20,15.50 542.20,15.50" fill="none" stroke="#7a72b4" stroke-width="1.45" stroke-linejoin="round" stroke-linecap="round" />
<rect x="282.3" y="9.80" width="37.7" height="15.20" fill="#fff" fill-opacity="0.8" stroke="#e2e2e2" stroke-width="0.5" rx="1"/>
<line x1="283.50" y1="14.30" x2="293.50" y2="14.30" stroke="#5a5aa0" stroke-width="0.8"/>
<line x1="283.50" y1="20.50" x2="293.50" y2="20.50" stroke="#d0cc90" stroke-width="0.8"/>
<text x="296.50" y="16.00" font-family='"Liberation Sans", sans-serif' font-size="4.9" text-anchor="start" font-weight="normal" fill="#222" stroke="#222" stroke-width="0.12" textLength="19.8" lengthAdjust="spacingAndGlyphs" >Test data</text>
<text x="296.50" y="22.20" font-family='"Liberation Sans", sans-serif' font-size="4.9" text-anchor="start" font-weight="normal" fill="#222" stroke="#222" stroke-width="0.12" textLength="21.2" lengthAdjust="spacingAndGlyphs" >Prediction</text>
<text x="269.50" y="73.70" font-family='"Liberation Sans", sans-serif' font-size="4.6" text-anchor="middle" font-weight="normal" fill="#333" stroke="#333" stroke-width="0.12" textLength="30" lengthAdjust="spacingAndGlyphs" transform="rotate(-90 269.5 73.7)">PM2.5 (μg/m3)</text>
<text x="412.00" y="147.30" font-family='"Liberation Sans", sans-serif' font-size="4.9" text-anchor="middle" font-weight="normal" fill="#333" stroke="#333" stroke-width="0.1" textLength="28" lengthAdjust="spacingAndGlyphs" >Time (second)</text>
<text x="405.50" y="166.80" font-family='"Liberation Serif", serif' font-size="10.5" text-anchor="middle" font-weight="normal" fill="#111" >(<tspan font-weight="bold">b</tspan>)</text>
<rect x="280.30" y="173.40" width="260.50" height="109.00" fill="none" stroke="#b2b2b2" stroke-width="0.9"/>
<line x1="279.10" y1="186.00" x2="280.30" y2="186.00" stroke="#888" stroke-width="0.4"/>
<text x="278.50" y="187.10" font-family='"Liberation Sans", sans-serif' font-size="3.2" text-anchor="end" font-weight="normal" fill="#333" stroke="#333" stroke-width="0.12" >0.40</text>
<line x1="279.10" y1="198.93" x2="280.30" y2="198.93" stroke="#888" stroke-width="0.4"/>
<text x="278.50" y="200.03" font-family='"Liberation Sans", sans-serif' font-size="3.2" text-anchor="end" font-weight="normal" fill="#333" stroke="#333" stroke-width="0.12" >0.35</text>
<line x1="279.10" y1="211.86" x2="280.30" y2="211.86" stroke="#888" stroke-width="0.4"/>
<text x="278.50" y="212.96" font-family='"Liberation Sans", sans-serif' font-size="3.2" text-anchor="end" font-weight="normal" fill="#333" stroke="#333" stroke-width="0.12" >0.30</text>
<line x1="279.10" y1="224.79" x2="280.30" y2="224.79" stroke="#888" stroke-width="0.4"/>
<text x="278.50" y="225.89" font-family='"Liberation Sans", sans-serif' font-size="3.2" text-anchor="end" font-weight="normal" fill="#333" stroke="#333" stroke-width="0.12" >0.25</text>
<line x1="279.10" y1="237.71" x2="280.30" y2="237.71" stroke="#888" stroke-width="0.4"/>
<text x="278.50" y="238.81" font-family='"Liberation Sans", sans-serif' font-size="3.2" text-anchor="end" font-weight="normal" fill="#333" stroke="#333" stroke-width="0.12" >0.20</text>
<line x1="279.10" y1="250.64" x2="280.30" y2="250.64" stroke="#888" stroke-width="0.4"/>
<text x="278.50" y="251.74" font-family='"Liberation Sans", sans-serif' font-size="3.2" text-anchor="end" font-weight="normal" fill="#333" stroke="#333" stroke-width="0.12" >0.15</text>
<line x1="279.10" y1="263.57" x2="280.30" y2="263.57" stroke="#888" stroke-width="0.4"/>
<text x="278.50" y="264.67" font-family='"Liberation Sans", sans-serif' font-size="3.2" text-anchor="end" font-weight="normal" fill="#333" stroke="#333" stroke-width="0.12" >0.10</text>
<line x1="279.10" y1="276.50" x2="280.30" y2="276.50" stroke="#888" stroke-width="0.4"/>
<text x="278.50" y="277.60" font-family='"Liberation Sans", sans-serif' font-size="3.2" text-anchor="end" font-weight="normal" fill="#333" stroke="#333" stroke-width="0.12" >0.05</text>
<line x1="280.50" y1="282.40" x2="280.50" y2="283.60" stroke="#888" stroke-width="0.4"/>
<text x="280.50" y="286.20" font-family='"Liberation Sans", sans-serif' font-size="3.1" text-anchor="middle" font-weight="normal" fill="#333" stroke="#333" stroke-width="0.12" >0</text>
<line x1="294.94" y1="282.40" x2="294.94" y2="283.60" stroke="#888" stroke-width="0.4"/>
<text x="294.94" y="286.20" font-family='"Liberation Sans", sans-serif' font-size="3.1" text-anchor="middle" font-weight="normal" fill="#333" stroke="#333" stroke-width="0.12" >400</text>
<line x1="309.39" y1="282.40" x2="309.39" y2="283.60" stroke="#888" stroke-width="0.4"/>
<text x="309.39" y="286.20" font-family='"Liberation Sans", sans-serif' font-size="3.1" text-anchor="middle" font-weight="normal" fill="#333" stroke="#333" stroke-width="0.12" >800</text>
<line x1="323.83" y1="282.40" x2="323.83" y2="283.60" stroke="#888" stroke-width="0.4"/>
<text x="323.83" y="286.20" font-family='"Liberation Sans", sans-serif' font-size="3.1" text-anchor="middle" font-weight="normal" fill="#333" stroke="#333" stroke-width="0.12" >1200</text>
<line x1="338.28" y1="282.40" x2="338.28" y2="283.60" stroke="#888" stroke-width="0.4"/>
<text x="338.28" y="286.20" font-family='"Liberation Sans", sans-serif' font-size="3.1" text-anchor="middle" font-weight="normal" fill="#333" stroke="#333" stroke-width="0.12" >1600</text>
<line x1="352.72" y1="282.40" x2="352.72" y2="283.60" stroke="#888" stroke-width="0.4"/>
<text x="352.72" y="286.20" font-family='"Liberation Sans", sans-serif' font-size="3.1" text-anchor="middle" font-weight="normal" fill="#333" stroke="#333" stroke-width="0.12" >2000</text>
<line x1="367.17" y1="282.40" x2="367.17" y2="283.60" stroke="#888" stroke-width="0.4"/>
<text x="367.17" y="286.20" font-family='"Liberation Sans", sans-serif' font-size="3.1" text-anchor="middle" font-weight="normal" fill="#333" stroke="#333" stroke-width="0.12" >2400</text>
<line x1="381.61" y1="282.40" x2="381.61" y2="283.60" stroke="#888" stroke-width="0.4"/>
<text x="381.61" y="286.20" font-family='"Liberation Sans", sans-serif' font-size="3.1" text-anchor="middle" font-weight="normal" fill="#333" stroke="#333" stroke-width="0.12" >2800</text>
<line x1="396.06" y1="282.40" x2="396.06" y2="283.60" stroke="#888" stroke-width="0.4"/>
<text x="396.06" y="286.20" font-family='"Liberation Sans", sans-serif' font-size="3.1" text-anchor="middle" font-weight="normal" fill="#333" stroke="#333" stroke-width="0.12" >3200</text>
<line x1="410.50" y1="282.40" x2="410.50" y2="283.60" stroke="#888" stroke-width="0.4"/>
<text x="410.50" y="286.20" font-family='"Liberation Sans", sans-serif' font-size="3.1" text-anchor="middle" font-weight="normal" fill="#333" stroke="#333" stroke-width="0.12" >3600</text>
<line x1="424.94" y1="282.40" x2="424.94" y2="283.60" stroke="#888" stroke-width="0.4"/>
<text x="424.94" y="286.20" font-family='"Liberation Sans", sans-serif' font-size="3.1" text-anchor="middle" font-weight="normal" fill="#333" stroke="#333" stroke-width="0.12" >4000</text>
<line x1="439.39" y1="282.40" x2="439.39" y2="283.60" stroke="#888" stroke-width="0.4"/>
<text x="439.39" y="286.20" font-family='"Liberation Sans", sans-serif' font-size="3.1" text-anchor="middle" font-weight="normal" fill="#333" stroke="#333" stroke-width="0.12" >4400</text>
<line x1="453.83" y1="282.40" x2="453.83" y2="283.60" stroke="#888" stroke-width="0.4"/>
<text x="453.83" y="286.20" font-family='"Liberation Sans", sans-serif' font-size="3.1" text-anchor="middle" font-weight="normal" fill="#333" stroke="#333" stroke-width="0.12" >4800</text>
<line x1="468.28" y1="282.40" x2="468.28" y2="283.60" stroke="#888" stroke-width="0.4"/>
<text x="468.28" y="286.20" font-family='"Liberation Sans", sans-serif' font-size="3.1" text-anchor="middle" font-weight="normal" fill="#333" stroke="#333" stroke-width="0.12" >5200</text>
<line x1="482.72" y1="282.40" x2="482.72" y2="283.60" stroke="#888" stroke-width="0.4"/>
<text x="482.72" y="286.20" font-family='"Liberation Sans", sans-serif' font-size="3.1" text-anchor="middle" font-weight="normal" fill="#333" stroke="#333" stroke-width="0.12" >5600</text>
<line x1="497.17" y1="282.40" x2="497.17" y2="283.60" stroke="#888" stroke-width="0.4"/>
<text x="497.17" y="286.20" font-family='"Liberation Sans", sans-serif' font-size="3.1" text-anchor="middle" font-weight="normal" fill="#333" stroke="#333" stroke-width="0.12" >6000</text>
<line x1="511.61" y1="282.40" x2="511.61" y2="283.60" stroke="#888" stroke-width="0.4"/>
<text x="511.61" y="286.20" font-family='"Liberation Sans", sans-serif' font-size="3.1" text-anchor="middle" font-weight="normal" fill="#333" stroke="#333" stroke-width="0.12" >6400</text>
<line x1="526.06" y1="282.40" x2="526.06" y2="283.60" stroke="#888" stroke-width="0.4"/>
<text x="526.06" y="286.20" font-family='"Liberation Sans", sans-serif' font-size="3.1" text-anchor="middle" font-weight="normal" fill="#333" stroke="#333" stroke-width="0.12" >6800</text>
<line x1="540.50" y1="282.40" x2="540.50" y2="283.60" stroke="#888" stroke-width="0.4"/>
<text x="540.50" y="286.20" font-family='"Liberation Sans", sans-serif' font-size="3.1" text-anchor="middle" font-weight="normal" fill="#333" stroke="#333" stroke-width="0.12" >7200</text>
<polyline points="280.50,256.93 282.48,244.18 283.77,252.68 285.26,255.23 286.45,259.05 287.93,249.28 289.42,245.88 290.71,247.58 292.10,256.08 293.68,246.98 294.67,252.68 296.06,264.58 298.14,245.71 299.63,254.38 300.82,266.28 301.61,273.93 302.50,267.98 303.69,274.18 304.78,267.98 305.88,247.15 307.56,259.48 309.15,254.21 310.34,259.39 312.22,248.43 314.00,260.75 316.58,240.78 318.07,246.56 320.15,238.23 321.44,244.60 322.23,243.33 323.82,230.07 324.71,234.66 325.70,236.53 327.58,252.17 329.27,241.63 330.56,249.28 332.94,265.85 334.82,258.37 336.31,253.44 337.10,255.40 338.29,253.87 339.38,254.89 340.57,253.44 341.36,248.43 342.85,233.55 344.14,245.03 344.83,249.45 345.92,251.40 346.71,257.35 348.40,261.69 349.39,257.35 350.38,256.08 351.77,257.35 353.25,258.88 354.44,254.38 355.93,242.14 356.92,250.38 357.81,254.38 358.51,256.93 359.60,255.40 361.09,271.80 362.67,258.12 363.86,256.93 365.55,262.03 368.12,250.30 368.82,253.44 370.01,261.43 371.10,257.35 372.29,256.33 373.77,255.40 375.16,252.42 376.45,245.45 377.44,244.60 378.73,244.86 380.41,258.63 382.10,244.18 384.28,269.08 385.37,259.99 386.46,264.66 389.24,252.59 390.82,263.73 393.00,250.30 395.18,268.83 397.07,254.38 398.36,236.53 399.35,244.43 400.54,259.39 401.33,268.66 402.52,254.38 403.81,234.49 404.80,244.43 405.99,259.48 406.88,267.98 408.27,263.64 409.56,264.75 410.84,257.78 412.13,254.46 413.22,250.55 414.21,254.46 415.90,257.78 417.09,260.41 418.38,260.41 420.06,253.44 421.55,250.72 422.84,254.46 424.03,258.80 425.32,259.90 426.80,269.51 427.89,257.78 429.08,242.90 430.37,250.13 431.16,252.85 432.35,248.60 433.44,238.48 434.53,224.54 435.72,235.93 436.81,242.22 437.81,242.90 438.99,246.05 440.18,246.64 441.18,251.06 442.27,261.18 443.26,277.75 444.15,267.47 445.14,257.44 446.33,261.18 447.52,263.73 448.51,263.05 449.60,259.90 451.48,254.63 452.57,258.63 453.66,262.71 454.85,257.78 455.75,253.95 456.74,257.78 457.93,255.23 459.31,253.36 460.80,248.85 461.99,255.23 463.08,264.07 463.77,269.08 464.96,261.52 466.45,252.68 467.94,250.81 468.93,256.50 469.92,251.49 471.11,247.66 472.30,244.52 473.29,251.49 474.38,262.20 475.57,250.21 476.76,236.27 477.75,234.40 478.74,236.78 479.63,235.68 480.63,241.03 481.52,233.64 482.71,227.01 483.80,231.09 484.89,222.25 485.58,217.40 486.47,232.36 487.37,250.04 488.56,238.74 490.04,226.07 491.73,212.56 493.02,219.78 494.40,228.62 495.89,238.74 496.88,246.90 498.17,236.19 499.56,227.94 501.04,226.07 502.13,219.10 503.13,227.94 504.02,230.58 505.41,213.83 507.19,217.06 508.68,227.18 509.67,206.95 511.35,180.85 512.25,187.99 513.34,191.73 514.13,206.95 515.12,223.18 516.61,205.67 517.80,208.82 518.99,205.67 520.67,193.69 521.86,197.43 523.35,209.41 524.44,215.79 525.82,198.70 526.92,206.95 527.81,214.68 529.29,200.57 531.38,189.27 532.47,195.56 533.66,204.40 534.75,198.70 536.23,205.67 537.22,209.41 538.41,200.57 539.11,187.99 539.90,180.00" fill="none" stroke="#a6985f" stroke-width="1.2" stroke-linejoin="round" stroke-linecap="round" />
<polyline points="511.22,182.94 511.35,180.85 511.42,181.42" fill="none" stroke="#7a72b4" stroke-width="1.2" stroke-linejoin="round" stroke-linecap="round" />
<polyline points="520.54,194.64 520.67,193.69 520.77,193.98" fill="none" stroke="#7a72b4" stroke-width="1.2" stroke-linejoin="round" stroke-linecap="round" />
<polyline points="531.21,190.17 531.38,189.27 531.46,189.77" fill="none" stroke="#7a72b4" stroke-width="1.2" stroke-linejoin="round" stroke-linecap="round" />
<polyline points="539.84,180.64 539.90,180.00 539.90,180.00" fill="none" stroke="#7a72b4" stroke-width="1.2" stroke-linejoin="round" stroke-linecap="round" />
<rect x="282.3" y="173.50" width="37.7" height="14.30" fill="#fff" fill-opacity="0.8" stroke="#e2e2e2" stroke-width="0.5" rx="1"/>
<line x1="283.50" y1="178.00" x2="293.50" y2="178.00" stroke="#5a5aa0" stroke-width="0.8"/>
<line x1="283.50" y1="183.30" x2="293.50" y2="183.30" stroke="#d0cc90" stroke-width="0.8"/>
<text x="296.50" y="179.70" font-family='"Liberation Sans", sans-serif' font-size="4.9" text-anchor="start" font-weight="normal" fill="#222" stroke="#222" stroke-width="0.12" textLength="19.8" lengthAdjust="spacingAndGlyphs" >Test data</text>
<text x="296.50" y="185.00" font-family='"Liberation Sans", sans-serif' font-size="4.9" text-anchor="start" font-weight="normal" fill="#222" stroke="#222" stroke-width="0.12" textLength="21.2" lengthAdjust="spacingAndGlyphs" >Prediction</text>
<text x="268.70" y="228.60" font-family='"Liberation Serif", serif' font-size="4.6" text-anchor="middle" font-weight="normal" fill="#333" stroke="#333" stroke-width="0.12" textLength="10.2" lengthAdjust="spacingAndGlyphs" transform="rotate(-90 268.70000000000005 228.6)">PM2.5</text>
<text x="411.00" y="291.30" font-family='"Liberation Serif", serif' font-size="5.3" text-anchor="middle" font-weight="normal" fill="#333" stroke="#333" stroke-width="0.1" textLength="16" lengthAdjust="spacingAndGlyphs" >Time (s)</text>
<text x="405.50" y="306.50" font-family='"Liberation Serif", serif' font-size="10.5" text-anchor="middle" font-weight="normal" fill="#111" >(<tspan font-weight="bold">d</tspan>)</text>
<rect x="280.30" y="311.50" width="260.50" height="129.00" fill="none" stroke="#b2b2b2" stroke-width="0.9"/>
<line x1="279.10" y1="325.80" x2="280.30" y2="325.80" stroke="#888" stroke-width="0.4"/>
<text x="278.50" y="326.90" font-family='"Liberation Sans", sans-serif' font-size="3.2" text-anchor="end" font-weight="normal" fill="#333" stroke="#333" stroke-width="0.12" >0.40</text>
<line x1="279.10" y1="341.04" x2="280.30" y2="341.04" stroke="#888" stroke-width="0.4"/>
<text x="278.50" y="342.14" font-family='"Liberation Sans", sans-serif' font-size="3.2" text-anchor="end" font-weight="normal" fill="#333" stroke="#333" stroke-width="0.12" >0.35</text>
<line x1="279.10" y1="356.29" x2="280.30" y2="356.29" stroke="#888" stroke-width="0.4"/>
<text x="278.50" y="357.39" font-family='"Liberation Sans", sans-serif' font-size="3.2" text-anchor="end" font-weight="normal" fill="#333" stroke="#333" stroke-width="0.12" >0.30</text>
<line x1="279.10" y1="371.53" x2="280.30" y2="371.53" stroke="#888" stroke-width="0.4"/>
<text x="278.50" y="372.63" font-family='"Liberation Sans", sans-serif' font-size="3.2" text-anchor="end" font-weight="normal" fill="#333" stroke="#333" stroke-width="0.12" >0.25</text>
<line x1="279.10" y1="386.77" x2="280.30" y2="386.77" stroke="#888" stroke-width="0.4"/>
<text x="278.50" y="387.87" font-family='"Liberation Sans", sans-serif' font-size="3.2" text-anchor="end" font-weight="normal" fill="#333" stroke="#333" stroke-width="0.12" >0.20</text>
<line x1="279.10" y1="402.01" x2="280.30" y2="402.01" stroke="#888" stroke-width="0.4"/>
<text x="278.50" y="403.11" font-family='"Liberation Sans", sans-serif' font-size="3.2" text-anchor="end" font-weight="normal" fill="#333" stroke="#333" stroke-width="0.12" >0.15</text>
<line x1="279.10" y1="417.26" x2="280.30" y2="417.26" stroke="#888" stroke-width="0.4"/>
<text x="278.50" y="418.36" font-family='"Liberation Sans", sans-serif' font-size="3.2" text-anchor="end" font-weight="normal" fill="#333" stroke="#333" stroke-width="0.12" >0.10</text>
<line x1="279.10" y1="432.50" x2="280.30" y2="432.50" stroke="#888" stroke-width="0.4"/>
<text x="278.50" y="433.60" font-family='"Liberation Sans", sans-serif' font-size="3.2" text-anchor="end" font-weight="normal" fill="#333" stroke="#333" stroke-width="0.12" >0.05</text>
<line x1="280.50" y1="440.50" x2="280.50" y2="441.70" stroke="#888" stroke-width="0.4"/>
<text x="280.50" y="444.50" font-family='"Liberation Sans", sans-serif' font-size="3.1" text-anchor="middle" font-weight="normal" fill="#333" stroke="#333" stroke-width="0.12" >0</text>
<line x1="294.94" y1="440.50" x2="294.94" y2="441.70" stroke="#888" stroke-width="0.4"/>
<text x="294.94" y="444.50" font-family='"Liberation Sans", sans-serif' font-size="3.1" text-anchor="middle" font-weight="normal" fill="#333" stroke="#333" stroke-width="0.12" >400</text>
<line x1="309.39" y1="440.50" x2="309.39" y2="441.70" stroke="#888" stroke-width="0.4"/>
<text x="309.39" y="444.50" font-family='"Liberation Sans", sans-serif' font-size="3.1" text-anchor="middle" font-weight="normal" fill="#333" stroke="#333" stroke-width="0.12" >800</text>
<line x1="323.83" y1="440.50" x2="323.83" y2="441.70" stroke="#888" stroke-width="0.4"/>
<text x="323.83" y="444.50" font-family='"Liberation Sans", sans-serif' font-size="3.1" text-anchor="middle" font-weight="normal" fill="#333" stroke="#333" stroke-width="0.12" >1200</text>
<line x1="338.28" y1="440.50" x2="338.28" y2="441.70" stroke="#888" stroke-width="0.4"/>
<text x="338.28" y="444.50" font-family='"Liberation Sans", sans-serif' font-size="3.1" text-anchor="middle" font-weight="normal" fill="#333" stroke="#333" stroke-width="0.12" >1600</text>
<line x1="352.72" y1="440.50" x2="352.72" y2="441.70" stroke="#888" stroke-width="0.4"/>
<text x="352.72" y="444.50" font-family='"Liberation Sans", sans-serif' font-size="3.1" text-anchor="middle" font-weight="normal" fill="#333" stroke="#333" stroke-width="0.12" >2000</text>
<line x1="367.17" y1="440.50" x2="367.17" y2="441.70" stroke="#888" stroke-width="0.4"/>
<text x="367.17" y="444.50" font-family='"Liberation Sans", sans-serif' font-size="3.1" text-anchor="middle" font-weight="normal" fill="#333" stroke="#333" stroke-width="0.12" >2400</text>
<line x1="381.61" y1="440.50" x2="381.61" y2="441.70" stroke="#888" stroke-width="0.4"/>
<text x="381.61" y="444.50" font-family='"Liberation Sans", sans-serif' font-size="3.1" text-anchor="middle" font-weight="normal" fill="#333" stroke="#333" stroke-width="0.12" >2800</text>
<line x1="396.06" y1="440.50" x2="396.06" y2="441.70" stroke="#888" stroke-width="0.4"/>
<text x="396.06" y="444.50" font-family='"Liberation Sans", sans-serif' font-size="3.1" text-anchor="middle" font-weight="normal" fill="#333" stroke="#333" stroke-width="0.12" >3200</text>
<line x1="410.50" y1="440.50" x2="410.50" y2="441.70" stroke="#888" stroke-width="0.4"/>
<text x="410.50" y="444.50" font-family='"Liberation Sans", sans-serif' font-size="3.1" text-anchor="middle" font-weight="normal" fill="#333" stroke="#333" stroke-width="0.12" >3600</text>
<line x1="424.94" y1="440.50" x2="424.94" y2="441.70" stroke="#888" stroke-width="0.4"/>
<text x="424.94" y="444.50" font-family='"Liberation Sans", sans-serif' font-size="3.1" text-anchor="middle" font-weight="normal" fill="#333" stroke="#333" stroke-width="0.12" >4000</text>
<line x1="439.39" y1="440.50" x2="439.39" y2="441.70" stroke="#888" stroke-width="0.4"/>
<text x="439.39" y="444.50" font-family='"Liberation Sans", sans-serif' font-size="3.1" text-anchor="middle" font-weight="normal" fill="#333" stroke="#333" stroke-width="0.12" >4400</text>
<line x1="453.83" y1="440.50" x2="453.83" y2="441.70" stroke="#888" stroke-width="0.4"/>
<text x="453.83" y="444.50" font-family='"Liberation Sans", sans-serif' font-size="3.1" text-anchor="middle" font-weight="normal" fill="#333" stroke="#333" stroke-width="0.12" >4800</text>
<line x1="468.28" y1="440.50" x2="468.28" y2="441.70" stroke="#888" stroke-width="0.4"/>
<text x="468.28" y="444.50" font-family='"Liberation Sans", sans-serif' font-size="3.1" text-anchor="middle" font-weight="normal" fill="#333" stroke="#333" stroke-width="0.12" >5200</text>
<line x1="482.72" y1="440.50" x2="482.72" y2="441.70" stroke="#888" stroke-width="0.4"/>
<text x="482.72" y="444.50" font-family='"Liberation Sans", sans-serif' font-size="3.1" text-anchor="middle" font-weight="normal" fill="#333" stroke="#333" stroke-width="0.12" >5600</text>
<line x1="497.17" y1="440.50" x2="497.17" y2="441.70" stroke="#888" stroke-width="0.4"/>
<text x="497.17" y="444.50" font-family='"Liberation Sans", sans-serif' font-size="3.1" text-anchor="middle" font-weight="normal" fill="#333" stroke="#333" stroke-width="0.12" >6000</text>
<line x1="511.61" y1="440.50" x2="511.61" y2="441.70" stroke="#888" stroke-width="0.4"/>
<text x="511.61" y="444.50" font-family='"Liberation Sans", sans-serif' font-size="3.1" text-anchor="middle" font-weight="normal" fill="#333" stroke="#333" stroke-width="0.12" >6400</text>
<line x1="526.06" y1="440.50" x2="526.06" y2="441.70" stroke="#888" stroke-width="0.4"/>
<text x="526.06" y="444.50" font-family='"Liberation Sans", sans-serif' font-size="3.1" text-anchor="middle" font-weight="normal" fill="#333" stroke="#333" stroke-width="0.12" >6800</text>
<line x1="540.50" y1="440.50" x2="540.50" y2="441.70" stroke="#888" stroke-width="0.4"/>
<text x="540.50" y="444.50" font-family='"Liberation Sans", sans-serif' font-size="3.1" text-anchor="middle" font-weight="normal" fill="#333" stroke="#333" stroke-width="0.12" >7200</text>
<polyline points="280.50,409.68 282.48,394.65 283.77,404.67 285.26,407.67 286.45,412.18 287.93,400.66 289.42,396.65 290.71,398.65 292.10,408.68 293.68,397.95 294.67,404.67 296.06,418.70 298.14,396.45 299.63,406.67 300.82,420.70 301.61,429.72 302.50,422.71 303.69,430.02 304.78,422.71 305.88,398.15 307.56,412.68 309.15,406.47 310.34,412.58 312.22,399.66 314.00,414.19 316.58,390.64 318.07,397.45 320.15,387.63 321.44,395.15 322.23,393.64 323.82,378.01 324.71,383.42 325.70,385.63 327.58,404.07 329.27,391.64 330.56,400.66 332.94,420.20 334.82,411.38 336.31,405.57 337.10,407.87 338.29,406.07 339.38,407.27 340.57,405.57 341.36,399.66 342.85,382.12 344.14,395.65 344.83,400.86 345.92,403.16 346.71,410.18 348.40,415.29 349.39,410.18 350.38,408.68 351.77,410.18 353.25,411.98 354.44,406.67 355.93,392.24 356.92,401.96 357.81,406.67 358.51,409.68 359.60,407.87 361.09,427.22 362.67,411.08 363.86,409.68 365.55,415.69 368.12,401.86 368.82,405.57 370.01,414.99 371.10,410.18 372.29,408.98 373.77,407.87 375.16,404.37 376.45,396.15 377.44,395.15 378.73,395.45 380.41,411.68 382.10,394.65 384.28,424.01 385.37,413.29 386.46,418.80 389.24,404.57 390.82,417.70 393.00,401.86 395.18,423.71 397.07,406.67 398.36,385.63 399.35,394.95 400.54,412.58 401.33,423.51 402.52,406.67 403.81,383.22 404.80,394.95 405.99,412.68 406.88,422.71 408.27,417.60 409.56,418.90 410.84,410.68 412.13,406.77 413.22,402.16 414.21,406.77 415.90,410.68 417.09,413.79 418.38,413.79 420.06,405.57 421.55,402.36 422.84,406.77 424.03,411.88 425.32,413.19 426.80,424.51 427.89,410.68 429.08,393.14 430.37,401.66 431.16,404.87 432.35,399.86 433.44,387.93 434.53,371.50 435.72,384.92 436.81,392.34 437.81,393.14 438.99,396.85 440.18,397.55 441.18,402.76 442.27,414.69 443.26,434.23 444.15,422.11 445.14,410.28 446.33,414.69 447.52,417.70 448.51,416.89 449.60,413.19 451.48,406.97 452.57,411.68 453.66,416.49 454.85,410.68 455.75,406.17 456.74,410.68 457.93,407.67 459.31,405.47 460.80,400.16 461.99,407.67 463.08,418.10 463.77,424.01 464.96,415.09 466.45,404.67 467.94,402.46 468.93,409.18 469.92,403.26 471.11,398.75 472.30,395.05 473.29,403.26 474.38,415.89 475.57,401.76 476.76,385.33 477.75,383.12 478.74,385.93 479.63,384.62 480.63,390.94 481.52,382.22 482.71,374.40 483.80,379.21 484.89,368.79 485.58,363.08 486.47,380.72 487.37,401.56 488.56,388.23 490.04,373.30 491.73,357.37 493.02,365.88 494.40,376.31 495.89,388.23 496.88,397.85 498.17,385.23 499.56,375.50 501.04,373.30 502.13,365.08 503.13,375.50 504.02,378.61 505.41,358.87 507.19,362.68 508.68,374.60 509.67,350.75 511.35,319.98 512.25,328.40 513.34,332.81 514.13,350.75 515.12,369.89 516.61,349.25 517.80,352.96 518.99,349.25 520.67,335.12 521.86,339.53 523.35,353.66 524.44,361.17 525.82,341.03 526.92,350.75 527.81,359.87 529.29,343.23 531.38,329.91 532.47,337.32 533.66,347.74 534.75,341.03 536.23,349.25 537.22,353.66 538.41,343.23 539.11,328.40 539.90,318.98" fill="none" stroke="#a6985f" stroke-width="1.3" stroke-linejoin="round" stroke-linecap="round" />
<polyline points="511.22,322.45 511.35,319.98 511.42,320.66" fill="none" stroke="#7a72b4" stroke-width="1.3" stroke-linejoin="round" stroke-linecap="round" />
<polyline points="520.54,336.25 520.67,335.12 520.77,335.47" fill="none" stroke="#7a72b4" stroke-width="1.3" stroke-linejoin="round" stroke-linecap="round" />
<polyline points="531.21,330.97 531.38,329.91 531.46,330.50" fill="none" stroke="#7a72b4" stroke-width="1.3" stroke-linejoin="round" stroke-linecap="round" />
<polyline points="539.84,319.74 539.90,318.98 539.90,318.98" fill="none" stroke="#7a72b4" stroke-width="1.3" stroke-linejoin="round" stroke-linecap="round" />
<rect x="282.3" y="312.50" width="37.7" height="15.00" fill="#fff" fill-opacity="0.8" stroke="#e2e2e2" stroke-width="0.5" rx="1"/>
<line x1="283.50" y1="317.00" x2="293.50" y2="317.00" stroke="#5a5aa0" stroke-width="0.8"/>
<line x1="283.50" y1="323.00" x2="293.50" y2="323.00" stroke="#d0cc90" stroke-width="0.8"/>
<text x="296.50" y="318.70" font-family='"Liberation Sans", sans-serif' font-size="4.9" text-anchor="start" font-weight="normal" fill="#222" stroke="#222" stroke-width="0.12" textLength="19.8" lengthAdjust="spacingAndGlyphs" >Test data</text>
<text x="296.50" y="324.70" font-family='"Liberation Sans", sans-serif' font-size="4.9" text-anchor="start" font-weight="normal" fill="#222" stroke="#222" stroke-width="0.12" textLength="21.2" lengthAdjust="spacingAndGlyphs" >Prediction</text>
<text x="268.20" y="377.00" font-family='"Liberation Serif", serif' font-size="4.6" text-anchor="middle" font-weight="normal" fill="#333" stroke="#333" stroke-width="0.12" textLength="30" lengthAdjust="spacingAndGlyphs" transform="rotate(-90 268.20000000000005 377)">PM2.5 (μg/m3)</text>
<text x="410.80" y="450.30" font-family='"Liberation Serif", serif' font-size="5.3" text-anchor="middle" font-weight="normal" fill="#333" stroke="#333" stroke-width="0.1" textLength="28.5" lengthAdjust="spacingAndGlyphs" >Time (second)</text>
<text x="405.50" y="464.30" font-family='"Liberation Serif", serif' font-size="10.5" text-anchor="middle" font-weight="normal" fill="#111" >(<tspan font-weight="bold">f</tspan>)</text>
</svg></body></html>
